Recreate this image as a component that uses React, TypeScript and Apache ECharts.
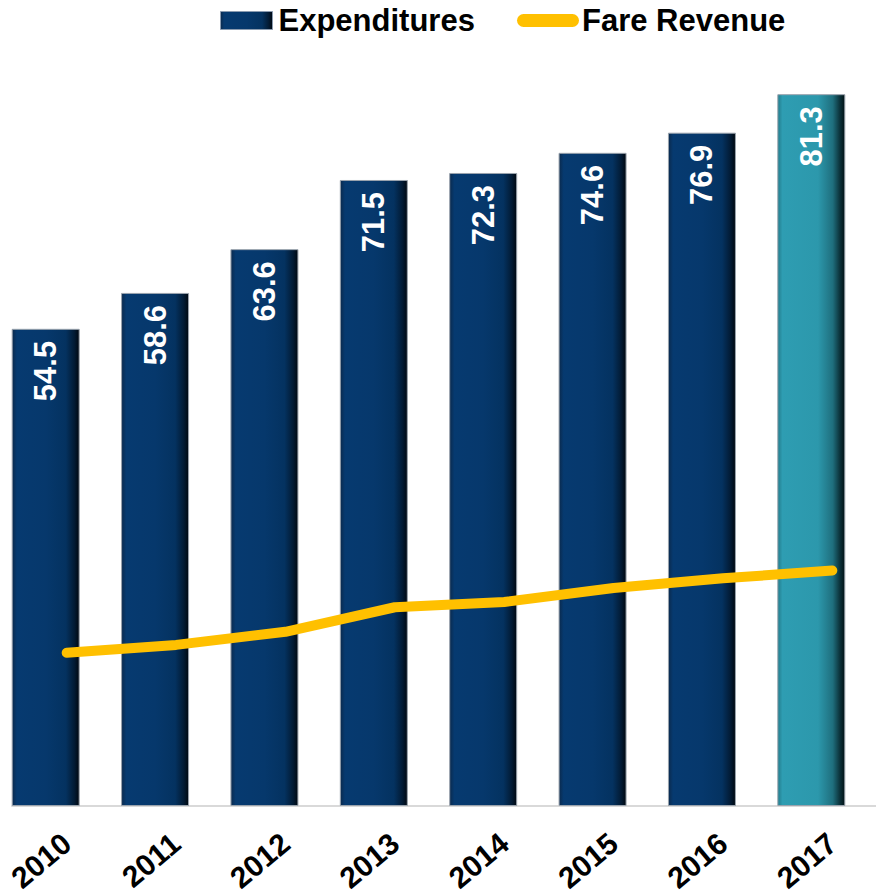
import React, { useEffect, useRef } from "react";
import * as echarts from "echarts";

const years = ["2010", "2011", "2012", "2013", "2014", "2015", "2016", "2017"];
const expenditures = [54.5, 58.6, 63.6, 71.5, 72.3, 74.6, 76.9, 81.3];
const fareRevenue = [17.5, 18.4, 19.9, 22.7, 23.3, 24.9, 26.0, 26.9];
const highlightIndex = 7;

const FONT = 'Arial, "Liberation Sans", sans-serif';

const navy = new echarts.graphic.LinearGradient(0, 0, 1, 0, [
  { offset: 0, color: "#0b2a4d" },
  { offset: 0.07, color: "#063a70" },
  { offset: 0.5, color: "#06386c" },
  { offset: 0.8, color: "#043260" },
  { offset: 0.93, color: "#021a33" },
  { offset: 1, color: "#000810" },
]);
const teal = new echarts.graphic.LinearGradient(0, 0, 1, 0, [
  { offset: 0, color: "#237c8c" },
  { offset: 0.07, color: "#2e9db2" },
  { offset: 0.6, color: "#2c98ac" },
  { offset: 0.82, color: "#1f6f7e" },
  { offset: 0.93, color: "#0b3038" },
  { offset: 1, color: "#021215" },
]);

export default function App() {
  const ref = useRef<HTMLDivElement>(null);
  useEffect(() => {
    if (!ref.current) return;
    const chart = echarts.init(ref.current, null, { renderer: "svg" });
    chart.setOption({
      animation: false,
      legend: [
        {
          data: [{ name: "Expenditures", icon: "rect", itemStyle: { color: navy, borderColor: "#8a9bb0", borderWidth: 1 } }],
          left: 220,
          top: 5,
          padding: 0,
          itemWidth: 52,
          itemHeight: 18,
          itemGap: 5,
          textStyle: { fontFamily: FONT, fontWeight: "bold", fontSize: 31, color: "#000", padding: [0, 0, 0, 1] },
        },
        {
          data: [
            {
              name: "Fare Revenue",
              icon: "path://M6.5,0 H55.5 A6.5,6.5 0 0 1 55.5,13 H6.5 A6.5,6.5 0 0 1 6.5,0 Z",
              itemStyle: { color: "#ffc000" },
            },
          ],
          left: 517,
          top: 5,
          padding: 0,
          itemWidth: 62,
          itemHeight: 13,
          itemGap: 3,
          textStyle: { fontFamily: FONT, fontWeight: "bold", fontSize: 31, color: "#000", padding: [0, 0, 0, -2] },
        },
      ],
      grid: [
        { left: -9, width: 875, top: 18, height: 788, outerBoundsMode: "none", containLabel: false },
        { left: 12, width: 875, top: 18, height: 788, outerBoundsMode: "none", containLabel: false },
      ],
      xAxis: [
        {
          type: "category",
          data: years,
          gridIndex: 0,
          axisLine: { show: false },
          axisTick: { show: false },
          axisLabel: { show: false },
        },
        {
          type: "category",
          data: years,
          gridIndex: 1,
          axisLine: { show: true, lineStyle: { color: "#d9d9d9", width: 2 } },
          axisTick: { show: false },
          axisLabel: {
            rotate: 40,
            margin: 33,
            fontFamily: FONT,
            fontWeight: "bold",
            fontSize: 30,
            color: "#000",
          },
        },
      ],
      yAxis: [
        { type: "value", gridIndex: 0, min: 0, max: 90, show: false, splitLine: { show: false } },
        { type: "value", gridIndex: 1, min: 0, max: 90, show: false, splitLine: { show: false } },
      ],
      series: [
        {
          name: "Expenditures",
          type: "bar",
          xAxisIndex: 0,
          yAxisIndex: 0,
          barWidth: 68,
          data: expenditures.map((v, i) => ({
            value: v,
            itemStyle: { color: i === highlightIndex ? teal : navy },
          })),
          itemStyle: { borderColor: "#9aa3ad", borderWidth: 1 },
          label: {
            show: true,
            position: "insideTop",
            distance: 12,
            rotate: 90,
            align: "right",
            verticalAlign: "middle",
            color: "#fff",
            fontFamily: FONT,
            fontWeight: "bold",
            fontSize: 31,
            formatter: (p: any) => p.value.toFixed(1),
          },
          z: 2,
        },
        {
          name: "Fare Revenue",
          type: "line",
          xAxisIndex: 1,
          yAxisIndex: 1,
          data: fareRevenue,
          symbol: "none",
          lineStyle: { color: "#ffc000", width: 10, cap: "round", join: "round" },
          itemStyle: { color: "#ffc000" },
          z: 5,
        },
      ],
    });
    return () => chart.dispose();
  }, []);
  return <div ref={ref} style={{ width: 876, height: 895, position: "absolute", left: 0, top: 0 }} />;
}
